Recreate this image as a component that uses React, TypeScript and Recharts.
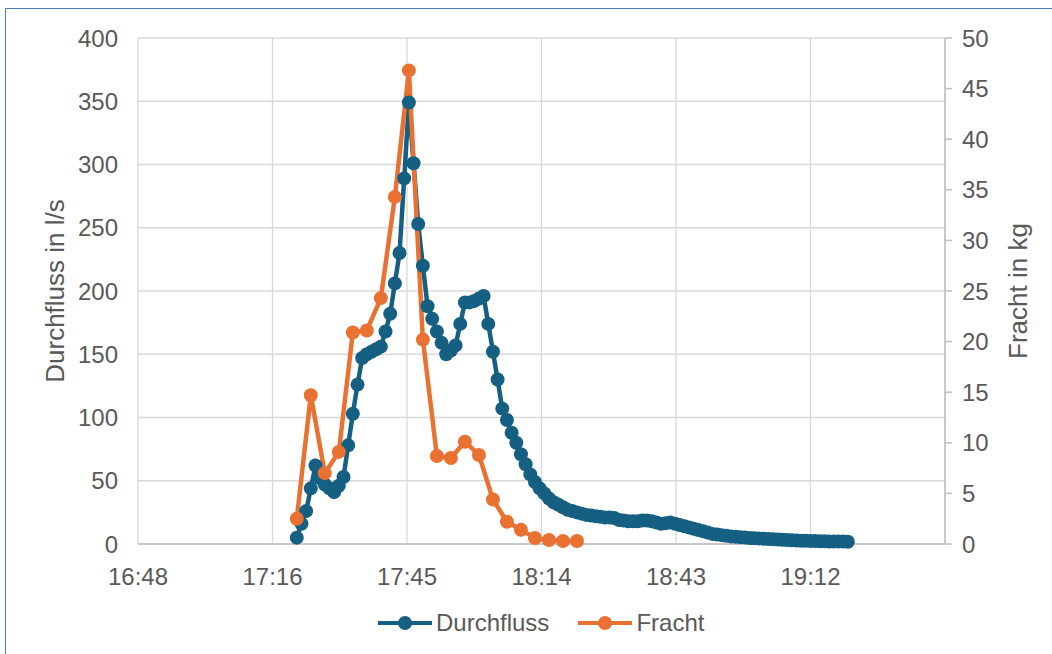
import React from "react";
import {
  LineChart,
  Line,
  XAxis,
  YAxis,
  CartesianGrid,
  Legend,
} from "recharts";

// ---- Data ----
const durchflussTimes = [
  "17:22", "17:23", "17:24", "17:25", "17:26", "17:27", "17:28", "17:29", "17:30", "17:31",
  "17:32", "17:33", "17:34", "17:35", "17:36", "17:37", "17:38", "17:39", "17:40", "17:41",
  "17:42", "17:43", "17:44", "17:45", "17:46", "17:47", "17:48", "17:49", "17:50", "17:51",
  "17:52", "17:53", "17:54", "17:55", "17:56", "17:57", "17:58", "17:59", "18:00", "18:01",
  "18:02", "18:03", "18:04", "18:05", "18:06", "18:07", "18:08", "18:09", "18:10", "18:11",
  "18:12", "18:13", "18:14", "18:15", "18:16", "18:17", "18:18", "18:19", "18:20", "18:21",
  "18:22", "18:23", "18:24", "18:25", "18:26", "18:27", "18:28", "18:29", "18:30", "18:31",
  "18:32", "18:33", "18:34", "18:35", "18:36", "18:37", "18:38", "18:39", "18:40", "18:41",
  "18:42", "18:43", "18:44", "18:45", "18:46", "18:47", "18:48", "18:49", "18:50", "18:51",
  "18:52", "18:53", "18:54", "18:55", "18:56", "18:57", "18:58", "18:59", "19:00", "19:01",
  "19:02", "19:03", "19:04", "19:05", "19:06", "19:07", "19:08", "19:09", "19:10", "19:11",
  "19:12", "19:13", "19:14", "19:15", "19:16", "19:17", "19:18", "19:19", "19:20",
];

const durchflussValues = [
  5, 16, 26, 44, 62, 52, 47, 44, 41, 46,
  53, 78, 103, 126, 147, 150, 152, 154, 156, 168,
  182, 206, 230, 289, 349, 301, 253, 220, 188, 178,
  168, 159, 150, 153, 157, 174, 191, 191, 192, 194,
  196, 174, 152, 130, 107, 98, 88, 80, 71, 63,
  55, 49, 44, 40, 36, 33, 31, 29, 27, 26,
  25, 24, 23, 22.5, 22, 21.5, 21, 21, 20.5, 19,
  18.5, 18, 18, 18, 18.5, 18.5, 18, 17, 16, 16.5,
  17, 16, 15, 14, 13, 12, 11, 10, 9, 8,
  7.5, 7, 6.5, 6, 5.7, 5.4, 5.1, 4.8, 4.6, 4.4,
  4.2, 4, 3.8, 3.6, 3.4, 3.2, 3, 2.8, 2.6, 2.5,
  2.4, 2.3, 2.2, 2.1, 2, 2, 1.9, 1.9, 1.8,
];

const frachtTimes = [
  "17:22", "17:25", "17:28", "17:31", "17:34", "17:37", "17:40", "17:43", "17:46", "17:49",
  "17:52", "17:55", "17:58", "18:01", "18:04", "18:07", "18:10", "18:13", "18:16", "18:19",
  "18:22",
];

const frachtValues = [
  2.5, 14.7, 7.0, 9.1, 20.9, 21.1, 24.3, 34.3, 46.8, 20.2,
  8.7, 8.5, 10.1, 8.8, 4.4, 2.2, 1.4, 0.6, 0.4, 0.3,
  0.3,
];

// x-axis ticks (minutes since midnight): 16:48 ... 19:40.8
const xTicks = [1008, 1036.8, 1065.6, 1094.4, 1123.2, 1152, 1180.8];
const leftTicks = [0, 50, 100, 150, 200, 250, 300, 350, 400];
const rightTicks = [0, 5, 10, 15, 20, 25, 30, 35, 40, 45, 50];

const toMinutes = (s: string) => {
  const [h, m] = s.split(":").map(Number);
  return h * 60 + m;
};

const durchflussData = durchflussTimes.map((t, i) => ({
  t: toMinutes(t),
  durchfluss: durchflussValues[i],
}));
const frachtData = frachtTimes.map((t, i) => ({
  t: toMinutes(t),
  fracht: frachtValues[i],
}));

const BLUE = "#156082";
const ORANGE = "#E97132";
const TEXT = "#595959";
const GRID = "#D9D9D9";
const AXIS = "#BFBFBF";
const FONT = "'Liberation Sans', Arial, sans-serif";

const formatTime = (v: number) => {
  if (v >= xTicks[xTicks.length - 1] - 0.01) return "";
  const h = Math.floor(v / 60 + 1e-9);
  const m = Math.floor(v - h * 60 + 1e-6);
  return `${h}:${m < 10 ? "0" + m : m}`;
};

const LegendContent = (props: any) => {
  const payload = props.payload || [];
  return (
    <div
      style={{
        height: 40,
        display: "flex",
        alignItems: "center",
        justifyContent: "flex-start",
        paddingLeft: 378,
        fontFamily: FONT,
        fontSize: 24,
        color: TEXT,
      }}
    >
      {payload.map((entry: any, i: number) => (
        <div
          key={i}
          style={{ display: "flex", alignItems: "center", marginRight: 29 }}
        >
          <svg width={54} height={20} style={{ marginRight: 4 }}>
            <line x1={0} y1={10} x2={54} y2={10} stroke={entry.color} strokeWidth={4} />
            <circle cx={27} cy={10} r={7} fill={entry.color} />
          </svg>
          <span>{entry.value}</span>
        </div>
      ))}
    </div>
  );
};

export default function App() {
  return (
    <div
      style={{
        position: "fixed",
        left: 0,
        top: 0,
        width: 1052,
        height: 654,
        overflow: "hidden",
        background: "#fff",
      }}
    >
      <div
        style={{
          position: "absolute",
          left: 5,
          top: 8,
          width: 1100,
          height: 700,
          border: "1.5px solid #4A7EBB",
        }}
      />
      <div style={{ position: "absolute", left: 0, top: 0 }}>
        <LineChart
          width={1052}
          height={654}
          margin={{ top: 38, right: 0, bottom: 11, left: 0 }}
        >
          <CartesianGrid
            yAxisId="left"
            stroke={GRID}
            strokeWidth={1.3}
            vertical={true}
            horizontal={true}
          />
          <XAxis
            dataKey="t"
            type="number"
            domain={[xTicks[0], xTicks[xTicks.length - 1]]}
            ticks={xTicks}
            tickFormatter={formatTime}
            allowDataOverflow
            height={59}
            tickLine={false}
            tickSize={0}
            tickMargin={24}
            axisLine={{ stroke: AXIS, strokeWidth: 1.5 }}
            tick={{ fill: TEXT, fontSize: 24, fontFamily: FONT }}
            interval={0}
          />
          <YAxis
            yAxisId="left"
            orientation="left"
            width={138}
            domain={[0, 400]}
            ticks={leftTicks}
            interval={0}
            axisLine={false}
            tickLine={false}
            tickSize={0}
            tickMargin={20}
            tick={{ fill: TEXT, fontSize: 24, fontFamily: FONT }}
            label={() => (
              <text
                x={55}
                y={291}
                transform="rotate(-90 55 291)"
                textAnchor="middle"
                dominantBaseline="central"
                fill={TEXT}
                fontSize={26}
                fontFamily={FONT}
              >
                Durchfluss in l/s
              </text>
            )}
          />
          <YAxis
            yAxisId="right"
            orientation="right"
            width={107}
            domain={[0, 50]}
            ticks={rightTicks}
            interval={0}
            axisLine={{ stroke: AXIS, strokeWidth: 1.5 }}
            tickLine={{ stroke: AXIS, strokeWidth: 1.5 }}
            tickSize={7}
            tickMargin={10}
            tick={{ fill: TEXT, fontSize: 24, fontFamily: FONT }}
            label={() => (
              <text
                x={1018}
                y={291}
                transform="rotate(-90 1018 291)"
                textAnchor="middle"
                dominantBaseline="central"
                fill={TEXT}
                fontSize={26}
                fontFamily={FONT}
              >
                Fracht in kg
              </text>
            )}
          />
          <Legend
            verticalAlign="bottom"
            align="left"
            layout="horizontal"
            content={<LegendContent />}
          />
          <Line
            yAxisId="left"
            data={durchflussData}
            dataKey="durchfluss"
            name="Durchfluss"
            type="linear"
            stroke={BLUE}
            strokeWidth={4.5}
            dot={{ r: 7, fill: BLUE, stroke: BLUE, strokeWidth: 0 }}
            activeDot={false}
            isAnimationActive={false}
          />
          <Line
            yAxisId="right"
            data={frachtData}
            dataKey="fracht"
            name="Fracht"
            type="linear"
            stroke={ORANGE}
            strokeWidth={4.5}
            dot={{ r: 7, fill: ORANGE, stroke: ORANGE, strokeWidth: 0 }}
            activeDot={false}
            isAnimationActive={false}
          />
        </LineChart>
      </div>
    </div>
  );
}
